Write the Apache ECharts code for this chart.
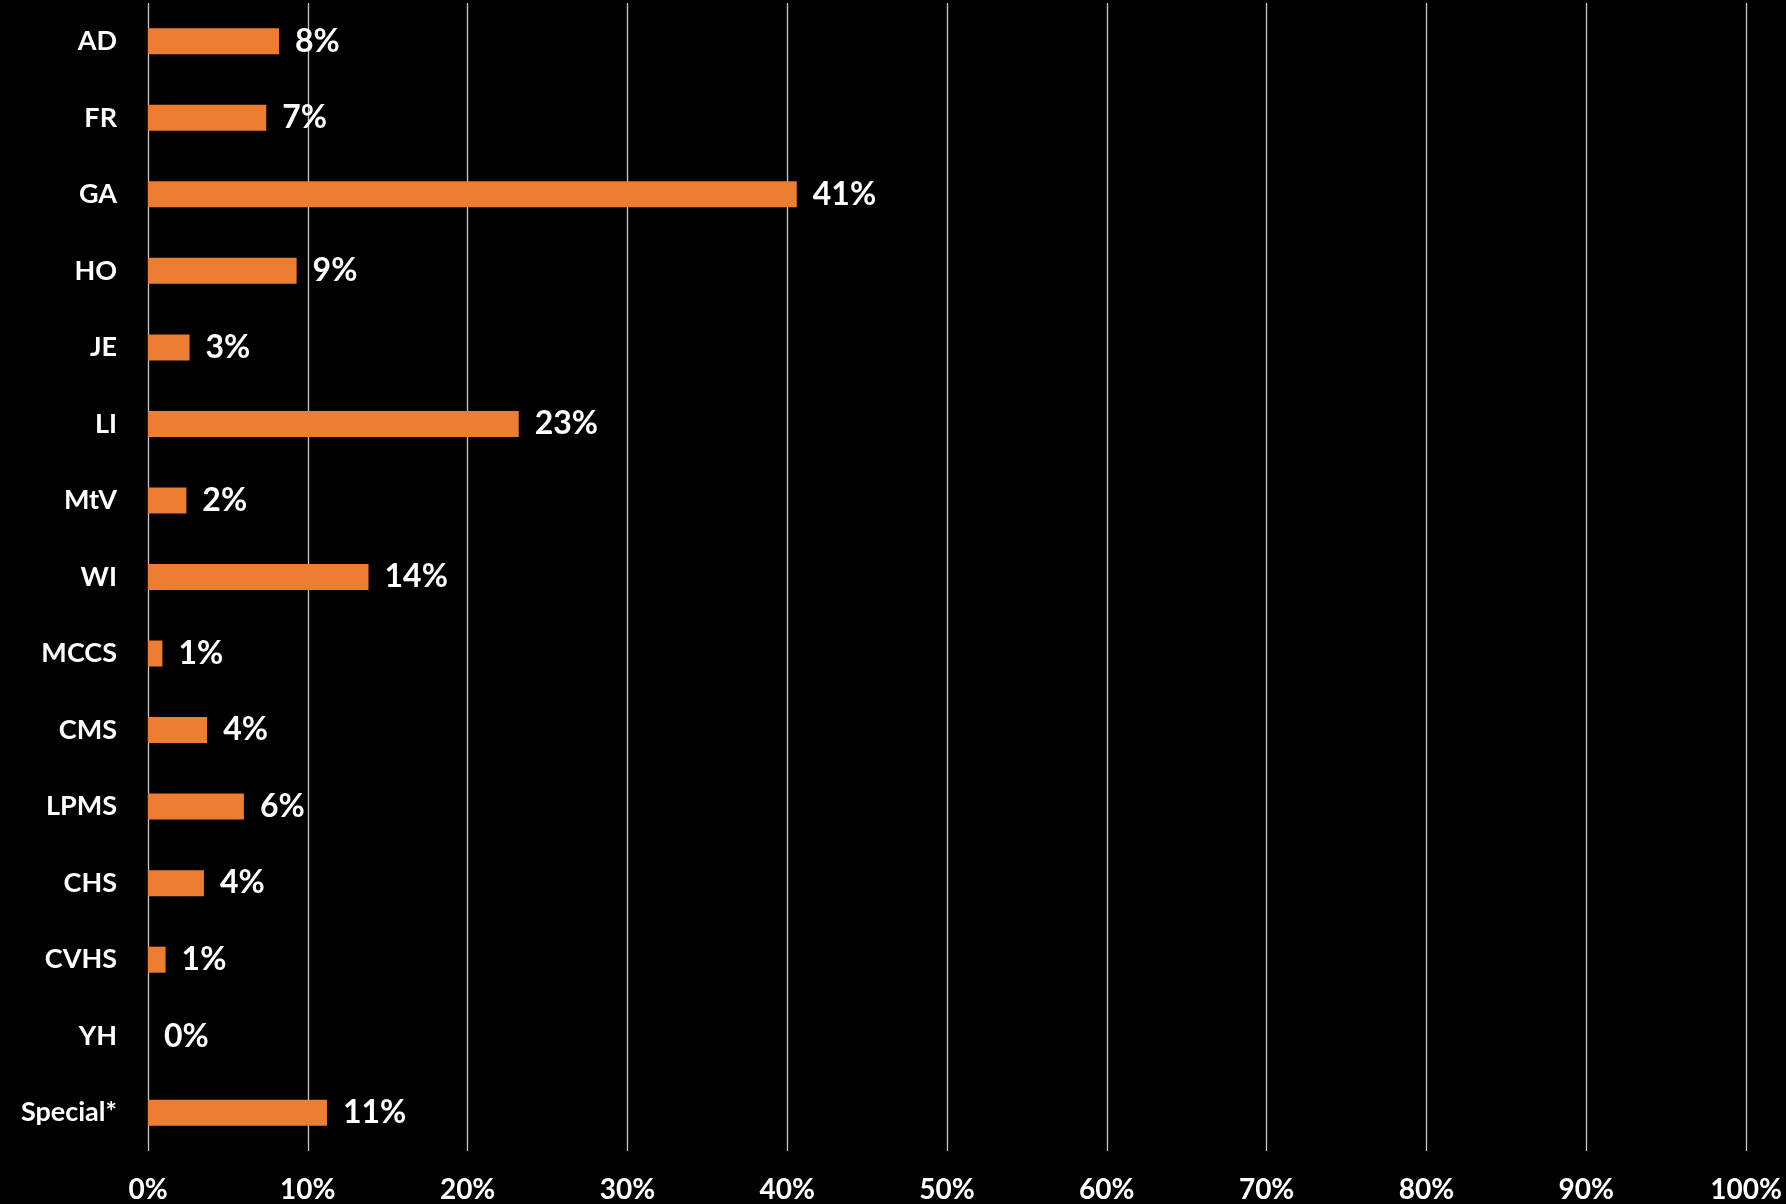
<!DOCTYPE html>
<html>
<head>
<meta charset="utf-8">
<script src="https://cdn.jsdelivr.net/npm/echarts@6/dist/echarts.min.js"></script>
<style>
html,body{margin:0;padding:0;background:#000;}
#chart{width:1786px;height:1204px;}
</style>
</head>
<body>
<div id="chart"></div>
<script>
const categories = ['AD','FR','GA','HO','JE','LI','MtV','WI','MCCS','CMS','LPMS','CHS','CVHS','YH','Special*'];
const values = [8.2, 7.4, 40.6, 9.3, 2.6, 23.2, 2.4, 13.8, 0.9, 3.7, 6.0, 3.5, 1.1, 0, 11.2];
const tickMax = 100;
const tickStep = 10;

const chart = echarts.init(document.getElementById('chart'));
const font = 'Lato, "Open Sans", sans-serif';
chart.setOption({
  backgroundColor: '#000000',
  animation: false,
  grid: { left: 148, right: 40, top: 3, bottom: 53, containLabel: false },
  xAxis: {
    type: 'value', min: 0, max: tickMax, interval: tickStep,
    axisLine: { show: false }, axisTick: { show: false },
    splitLine: { show: true, lineStyle: { color: '#c8c8c8', width: 1.3 } },
    axisLabel: { color: '#ffffff', fontFamily: font, fontWeight: 'bold', fontSize: 28, margin: 25,
      formatter: v => v + '%' }
  },
  yAxis: {
    type: 'category', data: categories, inverse: true,
    axisLine: { show: false }, axisTick: { show: false },
    axisLabel: { color: '#ffffff', fontFamily: font, fontWeight: 'bold', fontSize: 27, margin: 31 }
  },
  series: [{
    type: 'bar', data: values, barWidth: 26,
    itemStyle: { color: '#ED7D31' },
    label: { show: true, position: 'right', distance: 16, color: '#ffffff', fontFamily: font,
      fontWeight: 'bold', fontSize: 32, formatter: p => Math.round(p.value) + '%' }
  }]
});
</script>
</body>
</html>
